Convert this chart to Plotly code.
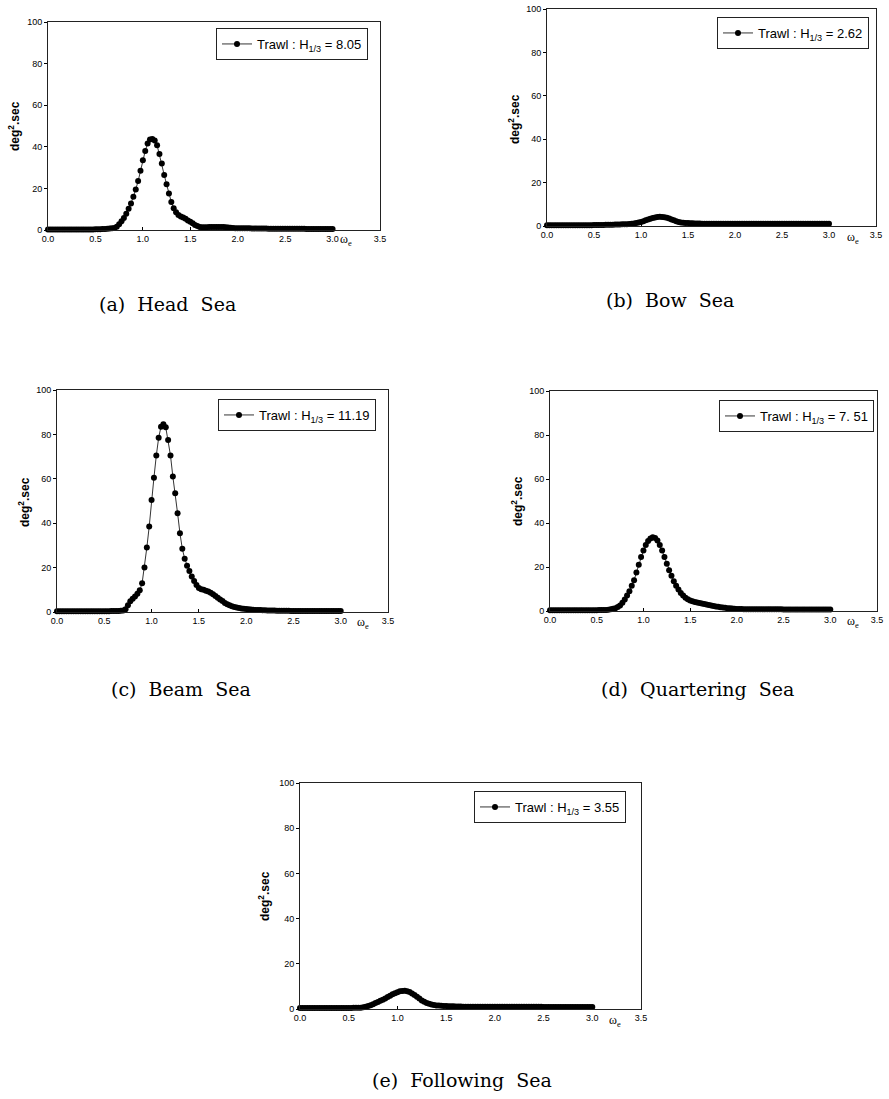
import plotly.graph_objects as go

W, H = 889, 1099

# encounter frequency grid (omega_e)
omega_e = [
    0.000, 0.025, 0.050, 0.075, 0.100, 0.125, 0.150, 0.175, 0.200, 0.225,
    0.250, 0.275, 0.300, 0.325, 0.350, 0.375, 0.400, 0.425, 0.450, 0.475,
    0.500, 0.525, 0.550, 0.575, 0.600, 0.625, 0.650, 0.675, 0.700, 0.725,
    0.750, 0.775, 0.800, 0.825, 0.850, 0.875, 0.900, 0.925, 0.950, 0.975,
    1.000, 1.025, 1.050, 1.075, 1.100, 1.125, 1.150, 1.175, 1.200, 1.225,
    1.250, 1.275, 1.300, 1.325, 1.350, 1.375, 1.400, 1.425, 1.450, 1.475,
    1.500, 1.525, 1.550, 1.575, 1.600, 1.625, 1.650, 1.675, 1.700, 1.725,
    1.750, 1.775, 1.800, 1.825, 1.850, 1.875, 1.900, 1.925, 1.950, 1.975,
    2.000, 2.025, 2.050, 2.075, 2.100, 2.125, 2.150, 2.175, 2.200, 2.225,
    2.250, 2.275, 2.300, 2.325, 2.350, 2.375, 2.400, 2.425, 2.450, 2.475,
    2.500, 2.525, 2.550, 2.575, 2.600, 2.625, 2.650, 2.675, 2.700, 2.725,
    2.750, 2.775, 2.800, 2.825, 2.850, 2.875, 2.900, 2.925, 2.950, 2.975,
    3.000,
]

head_sea = [
    0.3, 0.3, 0.3, 0.3, 0.3, 0.3, 0.3, 0.3, 0.3, 0.3,
    0.3, 0.3, 0.3, 0.3, 0.3, 0.3, 0.3, 0.3, 0.3, 0.3,
    0.35, 0.4, 0.4, 0.45, 0.5, 0.6, 0.7, 0.8, 1.0, 1.6,
    2.8, 4.2, 5.8, 7.8, 10.2, 12.8, 16.0, 19.5, 23.5, 28.5,
    33.5, 38.0, 41.6, 43.5, 43.8, 43.0, 40.8, 36.5, 32.0, 26.5,
    22.0, 17.5, 13.5, 10.5, 8.5, 7.2, 6.5, 6.0, 5.4, 4.6,
    4.0, 3.2, 2.4, 1.9, 1.5, 1.3, 1.3, 1.3, 1.4, 1.4,
    1.5, 1.5, 1.5, 1.5, 1.4, 1.3, 1.2, 1.1, 1.0, 0.9,
    0.9, 0.85, 0.85, 0.8, 0.8, 0.8, 0.75, 0.75, 0.75, 0.7,
    0.7, 0.7, 0.7, 0.65, 0.65, 0.65, 0.65, 0.6, 0.6, 0.6,
    0.6, 0.6, 0.6, 0.55, 0.55, 0.55, 0.55, 0.55, 0.55, 0.5,
    0.5, 0.5, 0.5, 0.5, 0.5, 0.5, 0.5, 0.5, 0.5, 0.5,
    0.5,
]

bow_sea = [
    0.4, 0.4, 0.4, 0.4, 0.4, 0.4, 0.4, 0.4, 0.4, 0.4,
    0.4, 0.4, 0.4, 0.4, 0.4, 0.4, 0.4, 0.4, 0.4, 0.4,
    0.45, 0.45, 0.5, 0.5, 0.5, 0.55, 0.55, 0.6, 0.6, 0.65,
    0.65, 0.7, 0.75, 0.8, 0.85, 0.9, 1.0, 1.15, 1.35, 1.6,
    1.9, 2.2, 2.6, 3.0, 3.35, 3.7, 3.95, 4.15, 4.25, 4.2,
    4.05, 3.8, 3.4, 3.0, 2.6, 2.2, 1.9, 1.65, 1.5, 1.4,
    1.35, 1.3, 1.25, 1.2, 1.15, 1.1, 1.05, 1.05, 1.05, 1.05,
    1.0, 1.0, 1.0, 1.0, 1.0, 1.0, 1.0, 1.0, 1.0, 1.0,
    1.0, 1.0, 1.0, 1.0, 1.0, 1.0, 1.0, 1.0, 1.0, 1.0,
    1.0, 1.0, 1.0, 1.0, 1.0, 1.0, 1.0, 1.0, 1.0, 1.0,
    1.0, 1.0, 1.0, 1.0, 1.0, 1.0, 1.0, 1.0, 1.0, 1.0,
    1.0, 1.0, 1.0, 1.0, 1.0, 1.0, 1.0, 1.0, 1.0, 1.0,
    1.0,
]

beam_sea = [
    0.3, 0.3, 0.3, 0.3, 0.3, 0.3, 0.3, 0.3, 0.3, 0.3,
    0.3, 0.3, 0.3, 0.3, 0.3, 0.3, 0.3, 0.3, 0.3, 0.3,
    0.3, 0.35, 0.35, 0.4, 0.4, 0.45, 0.5, 0.55, 0.7, 1.2,
    3.0, 4.8, 6.0, 7.0, 8.2, 9.8, 13.0, 20.0, 29.0, 38.5,
    50.5, 60.5, 70.5, 78.5, 83.5, 84.6, 83.2, 77.5, 70.5, 61.0,
    53.5, 44.5, 35.5, 28.5, 24.0, 20.8, 18.5, 16.0, 14.0, 12.2,
    10.8, 10.3, 10.0, 9.6, 9.2, 8.7, 8.0, 7.2, 6.4, 5.6,
    4.9, 4.1, 3.5, 3.0, 2.6, 2.3, 2.0, 1.8, 1.6, 1.5,
    1.35, 1.25, 1.15, 1.05, 0.95, 0.9, 0.85, 0.8, 0.75, 0.7,
    0.7, 0.65, 0.65, 0.6, 0.6, 0.6, 0.55, 0.55, 0.55, 0.5,
    0.5, 0.5, 0.5, 0.5, 0.5, 0.5, 0.5, 0.45, 0.45, 0.45,
    0.45, 0.45, 0.45, 0.45, 0.45, 0.4, 0.4, 0.4, 0.4, 0.4,
    0.4,
]

quartering_sea = [
    0.3, 0.3, 0.3, 0.3, 0.3, 0.3, 0.3, 0.3, 0.3, 0.3,
    0.3, 0.3, 0.3, 0.3, 0.3, 0.3, 0.3, 0.3, 0.3, 0.3,
    0.35, 0.4, 0.4, 0.45, 0.5, 0.6, 0.8, 1.0, 1.3, 1.8,
    2.5, 3.8, 5.2, 7.0, 9.0, 11.5, 14.0, 17.5, 21.0, 24.5,
    27.5, 30.0, 31.8, 33.0, 33.5, 33.2, 32.0, 30.0, 27.5, 24.5,
    21.5, 18.5, 16.0, 13.5, 11.5, 9.8, 8.2, 7.0, 6.0, 5.3,
    4.8, 4.4, 4.1, 3.9, 3.6, 3.4, 3.2, 2.9, 2.7, 2.5,
    2.3, 2.1, 1.9, 1.75, 1.6, 1.45, 1.3, 1.2, 1.1, 1.0,
    0.95, 0.9, 0.9, 0.85, 0.85, 0.85, 0.8, 0.8, 0.8, 0.8,
    0.75, 0.75, 0.75, 0.75, 0.75, 0.75, 0.75, 0.75, 0.75, 0.75,
    0.7, 0.7, 0.7, 0.7, 0.7, 0.7, 0.7, 0.7, 0.7, 0.7,
    0.65, 0.65, 0.65, 0.65, 0.65, 0.65, 0.65, 0.65, 0.65, 0.65,
    0.65,
]

following_sea = [
    0.4, 0.4, 0.4, 0.4, 0.4, 0.4, 0.4, 0.4, 0.4, 0.4,
    0.4, 0.4, 0.4, 0.4, 0.4, 0.4, 0.4, 0.4, 0.4, 0.4,
    0.45, 0.45, 0.5, 0.5, 0.55, 0.6, 0.8, 1.0, 1.3, 1.7,
    2.1, 2.6, 3.1, 3.6, 4.1, 4.7, 5.3, 5.9, 6.5, 7.0,
    7.4, 7.8, 8.0, 8.1, 7.9, 7.5, 6.9, 6.2, 5.4, 4.6,
    3.8, 3.2, 2.7, 2.3, 2.0, 1.8, 1.6, 1.5, 1.4, 1.35,
    1.3, 1.25, 1.2, 1.2, 1.15, 1.1, 1.1, 1.05, 1.05, 1.0,
    1.0, 1.0, 1.0, 1.0, 1.0, 1.0, 1.0, 1.0, 1.0, 1.0,
    0.95, 0.95, 0.95, 0.95, 0.95, 0.95, 0.95, 0.95, 0.95, 0.95,
    0.95, 0.95, 0.95, 0.95, 0.95, 0.95, 0.95, 0.95, 0.95, 0.95,
    0.9, 0.9, 0.9, 0.9, 0.9, 0.9, 0.9, 0.9, 0.9, 0.9,
    0.9, 0.9, 0.9, 0.9, 0.9, 0.9, 0.9, 0.9, 0.9, 0.9,
    0.9,
]

series = [head_sea, bow_sea, beam_sea, quartering_sea, following_sea]
h13 = ["8.05", "2.62", "11.19", "7. 51", "3.55"]
captions = ["(a)&nbsp;&nbsp;Head&nbsp;&nbsp;Sea", "(b)&nbsp;&nbsp;Bow&nbsp;&nbsp;Sea",
            "(c)&nbsp;&nbsp;Beam&nbsp;&nbsp;Sea", "(d)&nbsp;&nbsp;Quartering&nbsp;&nbsp;Sea",
            "(e)&nbsp;&nbsp;Following&nbsp;&nbsp;Sea"]
x_ticks = [0.0, 0.5, 1.0, 1.5, 2.0, 2.5, 3.0, 3.5]
x_ticktext = ["0.0", "0.5", "1.0", "1.5", "2.0", "2.5", "3.0", "3.5"]
y_ticks = [0, 20, 40, 60, 80, 100]

# layout geometry in pixels (left, right, top, bottom of plot frame)
frames = [(48, 380, 22, 230), (547, 876, 9, 226), (57, 388, 390, 612),
          (550, 877, 391, 611), (300, 641, 783, 1009)]
legend_pos = [(216, 28), (717, 17), (218, 399), (719, 400), (474, 791)]
caption_pos = [(167, 304), (670, 300), (181, 689), (697, 689), (462, 1080)]
ytitle_pos = [(14, 126), (514, 119), (24, 502), (517, 501), (264, 896)]
omega_pos = [(3.14, 240), (3.25, 238), (3.24, 623), (3.245, 622), (3.23, 1021)]


def px(p):
    return p / W


def py(p):
    return 1 - p / H


fig = go.Figure()
annotations = []
layout = dict(width=W, height=H,
              margin=dict(l=0, r=0, t=0, b=0, pad=0, autoexpand=False),
              paper_bgcolor="white", plot_bgcolor="white", showlegend=True)

tickfont = dict(family="Liberation Sans, Arial", size=9, color="black")

for i in range(5):
    n = "" if i == 0 else str(i + 1)
    lid = "legend" + n
    fig.add_trace(go.Scatter(
        x=omega_e, y=series[i], mode="lines+markers",
        name="Trawl : H<sub>1/3</sub> = " + h13[i],
        line=dict(color="black", width=0.8),
        marker=dict(color="black", size=6),
        cliponaxis=False, xaxis="x" + n, yaxis="y" + n, legend=lid,
    ))
    l, r, t, b = frames[i]
    layout["xaxis" + n] = dict(
        domain=[px(l), px(r)], range=[0, 3.5], anchor="y" + n,
        tickvals=x_ticks, ticktext=x_ticktext, ticks="inside", ticklen=3,
        tickcolor="black", tickfont=tickfont, showgrid=False, zeroline=False,
        showline=True, mirror=True, linecolor="#222", linewidth=1,
        automargin=False,
    )
    layout["yaxis" + n] = dict(
        domain=[py(b), py(t)], range=[0, 100], anchor="x" + n,
        tickvals=y_ticks, ticks="outside", ticklen=3, tickcolor="black",
        tickfont=tickfont, showgrid=False, zeroline=False,
        showline=True, mirror=True, linecolor="#222", linewidth=1,
        automargin=False,
    )
    lx, ly = legend_pos[i]
    layout[lid] = dict(
        x=px(lx), y=py(ly), xanchor="left", yanchor="top",
        bordercolor="#222", borderwidth=1, bgcolor="white",
        font=dict(family="Liberation Sans, Arial", size=13, color="black"),
        itemwidth=30, tracegroupgap=0,
    )
    cx, cy = caption_pos[i]
    annotations.append(dict(
        text=captions[i], x=px(cx), y=py(cy), xref="paper", yref="paper",
        showarrow=False, xanchor="center", yanchor="middle",
        font=dict(family="DejaVu Serif", size=19, color="black"),
    ))
    tx, ty = ytitle_pos[i]
    annotations.append(dict(
        text="<b>deg<sup>2</sup>.sec</b>", x=px(tx), y=py(ty),
        xref="paper", yref="paper", showarrow=False, textangle=-90,
        xanchor="center", yanchor="middle",
        font=dict(family="Liberation Sans, Arial", size=12, color="black"),
    ))
    ox, oy = omega_pos[i]
    annotations.append(dict(
        text="ω<sub>e</sub>", x=ox, y=py(oy), xref="x" + n, yref="paper",
        showarrow=False, xanchor="center", yanchor="middle",
        font=dict(family="Liberation Serif", size=12, color="black"),
    ))

layout["annotations"] = annotations
fig.update_layout(**layout)
fig.write_html(
    "out.html",
    config={"displayModeBar": False},
    post_script="document.body.style.margin='0';document.body.style.padding='0';"
                "document.documentElement.style.overflow='hidden';",
)
